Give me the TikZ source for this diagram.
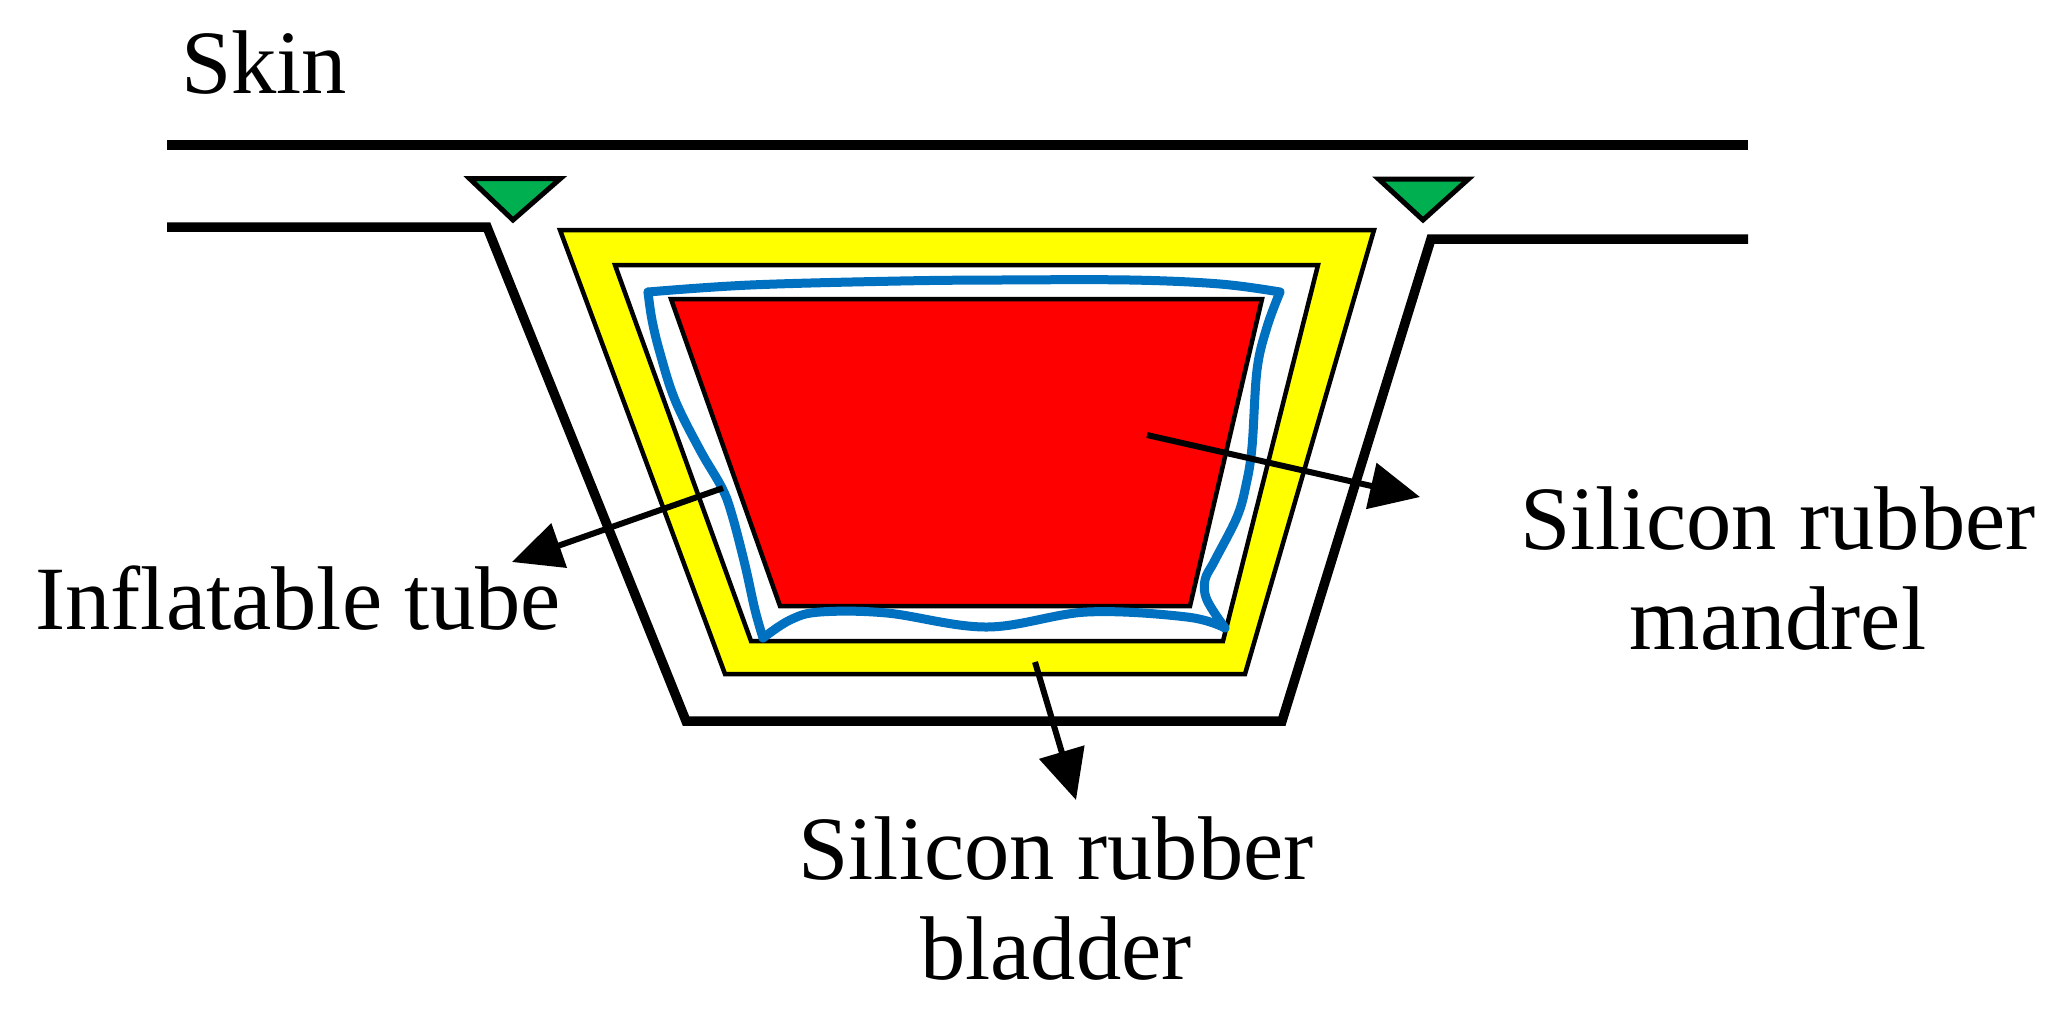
\documentclass[tikz,border=0pt]{standalone}
\usepackage{fontspec}
\setmainfont{Liberation Serif}
\usetikzlibrary{arrows.meta}
\definecolor{tubeblue}{HTML}{0070C0}
\definecolor{sealgreen}{HTML}{00B050}
\definecolor{layeryellow}{HTML}{FFFF00}
\definecolor{corered}{HTML}{FF0000}
\tikzset{
  wall/.style={draw=black,line width=9.5pt,miter limit=10},
  layer/.style={draw=black,line width=4.5pt},
  sealant/.style={draw=black,fill=sealgreen,line width=5pt,miter limit=10},
  tubeline/.style={draw=tubeblue,line width=9pt,line cap=round},
  pointer/.style={draw=black,line width=6pt,-{Triangle[length=50pt,width=46pt]}},
  lbl/.style={font=\fontsize{90.5}{100}\selectfont,align=center,inner sep=0pt,text=black}
}
\begin{document}
\begin{tikzpicture}[x=1pt,y=-1pt]
\useasboundingbox (0,0) rectangle (2050,1013);
% skin
\draw[wall] (167,145) -- (1748,145);
\draw[wall] (167,227) -- (487,227) -- (686,721) -- (1282,721) -- (1431,239) -- (1748,239);
% sealant
\draw[sealant] (469.5,178.5) -- (560.5,178.5) -- (513,220) -- cycle;
\draw[sealant] (1378.5,179) -- (1468.5,179) -- (1423,220) -- cycle;
% bladder
\draw[layer,fill=layeryellow] (560,230) -- (1374,230) -- (1245,674) -- (725,674) -- cycle;
\draw[layer,fill=white] (615,265) -- (1318,265) -- (1223,641) -- (751,641) -- cycle;
% mandrel
\draw[layer,fill=corered] (671,299) -- (1262,299) -- (1190,606) -- (780,606) -- cycle;
% tube
\draw[tubeline] plot[smooth,tension=.6] coordinates {(648,292) (750,285) (900,281) (1000,280) (1130,280) (1220,284) (1280,292)};
\draw[tubeline] plot[smooth,tension=.6] coordinates {(1280,292) (1267,327) (1257,370) (1252,447) (1246,485) (1237,517) (1215,560) (1205,580) (1207,600) (1225,628)};
\draw[tubeline] plot[smooth,tension=.6] coordinates {(1225,628) (1187,617) (1087,612) (987,627) (887,613) (820,612) (790,620) (763,638)};
\draw[tubeline] plot[smooth,tension=.6] coordinates {(763,638) (755,610) (745,565) (732,515) (722,488) (700,450) (675,400) (660,353) (652,320) (648,292)};
% pointers
\coordinate (tubeA) at (723,488);
\coordinate (tubeB) at (512,562);
\coordinate (mandA) at (1147,435);
\coordinate (mandB) at (1420,497);
\coordinate (bladA) at (1035,662);
\coordinate (bladB) at (1076,800);
\draw[pointer] (tubeA) -- (tubeB);
\draw[pointer] (mandA) -- (mandB);
\draw[pointer] (bladA) -- (bladB);
% labels
\node[lbl,anchor=base] (skin) at (264,93) {Skin};
\node[lbl,anchor=base] (tube) at (298,629) {Inflatable tube};
\node[lbl] (mand) at (1778,569) {Silicon rubber\\mandrel};
\node[lbl] (blad) at (1056,899) {Silicon rubber\\bladder};
\end{tikzpicture}
\end{document}
